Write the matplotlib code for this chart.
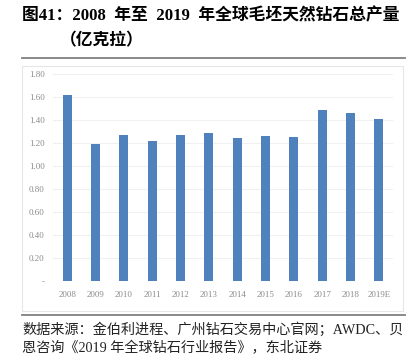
import matplotlib.pyplot as plt
from matplotlib.patches import Rectangle
from matplotlib.lines import Line2D

plt.rcParams['font.family'] = ['Liberation Serif', 'Noto Sans CJK SC', 'DejaVu Sans']

years = ['2008', '2009', '2010', '2011', '2012', '2013', '2014', '2015',
         '2016', '2017', '2018', '2019E']
output = [1.62, 1.19, 1.27, 1.22, 1.27, 1.29, 1.24, 1.26, 1.25, 1.49, 1.46, 1.41]
yticks = [0, 0.2, 0.4, 0.6, 0.8, 1.0, 1.2, 1.4, 1.6, 1.8]
ylabels = ['-'] + ['%.2f' % v for v in yticks[1:]]

W, H = 415, 357
fig = plt.figure(figsize=(W / 100, H / 100), dpi=100)

def fx(px):
    return px / W

def fy(py):
    return 1 - py / H

# title
fig.text(fx(22), fy(16), '图41：2008  年至  2019  年全球毛坯天然钻石总产量',
         fontsize=12.1, fontweight='bold', va='center', ha='left')
fig.text(fx(60), fy(41), '（亿克拉）', fontsize=12.1, fontweight='bold',
         va='center', ha='left')
fig.add_artist(Line2D([fx(22), fx(405)], [fy(58), fy(58)], color='#808080', lw=1.3))

# chart frame
fig.add_artist(Rectangle((fx(22), fy(311)), fx(403) - fx(22), fy(66) - fy(311),
                         fill=False, edgecolor='#e6e6e6', lw=0.8))

ax = fig.add_axes([fx(53), fy(281), fx(393) - fx(53), fy(74) - fy(281)])
x = range(len(years))
ax.bar(x, output, width=0.32, color='#4f81bd', zorder=2)
ax.set_xlim(-0.5, len(years) - 0.5)
ax.set_ylim(0, 1.8)
ax.set_yticks(yticks)
ax.set_yticklabels(ylabels)
ax.set_xticks(list(x))
ax.set_xticklabels(years)
ax.grid(axis='y', color='#f0f0f0', lw=0.8, zorder=0)
for s in ax.spines.values():
    s.set_visible(False)
ax.tick_params(length=0, labelsize=6.5, labelcolor='#8c8c8c', pad=7)
ax.tick_params(axis='y', pad=6)

# source
fig.add_artist(Line2D([fx(22), fx(405)], [fy(315), fy(315)], color='#808080', lw=1.3))
fig.text(fx(22), fy(330), '数据来源：金伯利进程、广州钻石交易中心官网；AWDC、贝',
         fontsize=10.2, va='center', ha='left', color='#222222')
fig.text(fx(22), fy(348), '恩咨询《2019 年全球钻石行业报告》，东北证券',
         fontsize=10.2, va='center', ha='left', color='#222222')

fig.savefig('out.png', dpi=100)
